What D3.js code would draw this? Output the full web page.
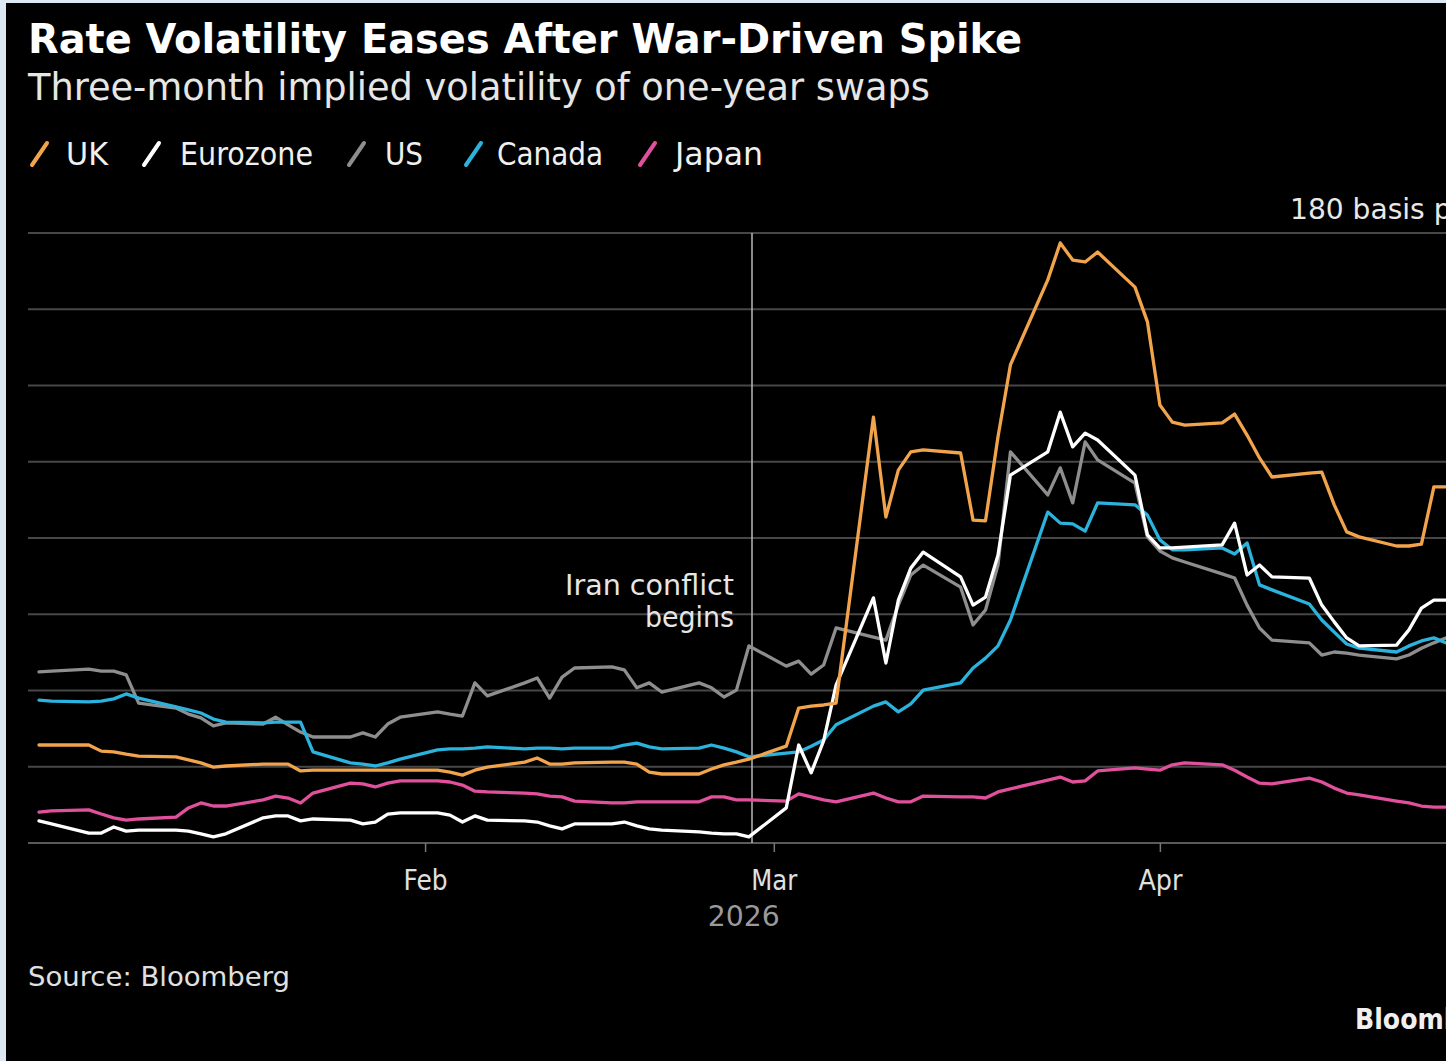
<!DOCTYPE html>
<html><head><meta charset="utf-8">
<script src="https://cdn.jsdelivr.net/npm/d3@7"></script>
<style>html,body{margin:0;padding:0;background:#000;} svg{display:block}</style>
</head><body><svg id="c" width="1446" height="1061"></svg>
<script>
// ---- data ----
const dates = [
 "2026-01-01","2026-01-02","2026-01-05","2026-01-06","2026-01-07","2026-01-08","2026-01-09","2026-01-12","2026-01-13","2026-01-14","2026-01-15","2026-01-16","2026-01-19","2026-01-20","2026-01-21","2026-01-22","2026-01-23","2026-01-26","2026-01-27","2026-01-28","2026-01-29","2026-01-30",
 "2026-02-02","2026-02-03","2026-02-04","2026-02-05","2026-02-06","2026-02-09","2026-02-10","2026-02-11","2026-02-12","2026-02-13","2026-02-16","2026-02-17","2026-02-18","2026-02-19","2026-02-20","2026-02-23","2026-02-24","2026-02-25","2026-02-26","2026-02-27",
 "2026-03-02","2026-03-03","2026-03-04","2026-03-05","2026-03-06","2026-03-09","2026-03-10","2026-03-11","2026-03-12","2026-03-13","2026-03-16","2026-03-17","2026-03-18","2026-03-19","2026-03-20","2026-03-23","2026-03-24","2026-03-25","2026-03-26","2026-03-27","2026-03-30","2026-03-31",
 "2026-04-01","2026-04-02","2026-04-03","2026-04-06","2026-04-07","2026-04-08","2026-04-09","2026-04-10","2026-04-13","2026-04-14","2026-04-15","2026-04-16","2026-04-17","2026-04-20","2026-04-21","2026-04-22","2026-04-23","2026-04-24"];

const uk = [
 45.7,45.7,45.7,44.1,43.9,43.3,42.8,42.6,41.8,41.0,39.9,40.2,40.7,40.7,40.7,38.9,39.1,39.1,39.1,39.1,39.1,39.1,
 39.1,38.6,37.8,39.1,39.9,41.2,42.3,40.7,40.7,41.0,41.2,41.2,40.7,38.6,38.1,38.1,39.4,40.5,41.2,42.0,
 45.4,55.4,55.9,56.2,56.7,131.7,105.5,117.8,122.6,123.1,122.3,104.7,104.5,126.5,145.4,167.7,177.4,172.9,172.4,175.0,165.8,156.7,
 134.9,130.4,129.6,130.2,132.5,127.0,121.0,116.0,117.0,117.3,108.7,101.6,100.3,97.9,97.9,98.4,113.4,113.4];

const eurozone = [
 25.8,25.0,22.6,22.6,24.2,23.1,23.4,23.4,23.1,22.4,21.6,22.4,26.6,27.1,27.1,25.8,26.3,26.0,25.0,25.5,27.6,27.9,
 27.9,27.3,25.5,27.1,26.0,25.8,25.5,24.5,23.7,25.0,25.0,25.5,24.5,23.7,23.4,22.9,22.6,22.4,22.4,21.6,
 29.2,45.7,38.4,46.8,61.4,84.3,67.2,83.7,92.1,96.3,89.8,82.4,84.5,95.5,116.5,122.6,133.0,123.9,127.5,125.7,116.5,100.8,
 97.4,97.4,97.6,98.2,103.9,90.3,92.9,89.8,89.5,82.4,78.0,73.8,71.7,71.9,75.9,81.6,83.7,83.7];

const us = [
 64.9,65.1,65.6,65.1,65.1,64.1,56.7,55.4,53.8,52.8,50.7,51.5,51.2,53.0,51.0,49.1,47.8,47.8,48.9,47.8,51.2,53.0,
 54.4,53.8,53.3,62.0,58.6,62.0,63.3,58.0,63.5,65.9,66.2,65.4,60.7,62.0,59.6,62.0,60.7,58.3,60.1,71.7,
 66.4,67.7,64.3,66.7,76.4,74.0,73.2,82.4,90.3,92.9,87.1,77.2,81.1,92.9,122.6,111.3,118.4,109.2,125.2,120.5,114.4,100.3,
 96.6,94.8,93.7,90.6,89.5,82.4,76.4,73.2,72.5,69.3,70.1,69.8,69.3,68.3,69.3,71.1,72.5,73.8];

const canada = [
 57.5,57.2,57.0,57.2,57.8,59.1,58.0,55.7,54.9,54.1,52.5,51.7,51.5,51.7,51.7,51.7,43.9,41.0,40.7,40.2,41.0,42.0,
 44.4,44.7,44.7,44.9,45.2,44.7,44.9,44.9,44.7,44.9,44.9,45.7,46.2,45.2,44.7,44.9,45.7,44.9,43.9,42.6,
 43.6,43.9,45.4,47.0,51.0,55.9,57.0,54.4,56.5,60.1,62.0,65.9,68.5,71.7,78.5,106.8,103.9,103.7,101.8,109.2,108.7,106.0,
 99.5,96.9,96.9,97.4,95.8,98.7,87.7,86.4,82.7,78.5,75.3,72.2,71.1,70.1,71.7,73.0,73.8,72.5];

const japan = [
 28.1,28.4,28.7,27.6,26.6,26.0,26.3,26.8,29.2,30.5,29.7,29.7,31.3,32.3,31.8,30.5,33.1,35.7,35.5,34.7,35.7,36.3,
 36.3,36.0,35.2,33.6,33.4,33.1,32.9,32.3,32.1,31.0,30.5,30.5,30.8,30.8,30.8,30.8,32.1,32.1,31.3,31.3,
 31.0,32.9,32.1,31.3,30.8,33.1,31.8,30.8,30.8,32.3,32.1,32.1,31.8,33.4,34.2,36.5,37.3,36.0,36.3,38.9,39.7,39.4,
 39.1,40.5,41.0,40.5,39.1,37.3,35.7,35.5,37.0,36.0,34.4,33.1,32.6,31.0,30.5,29.7,29.4,29.4];

const seriesNames = ["UK","Eurozone","US","Canada","Japan"];
const xTickDates = ["2026-02-01","2026-03-01","2026-04-01"];
const xTickLabels = ["Feb","Mar","Apr"];
const yTicks = [20,40,60,80,100,120,140,160,180];
const yTopLabel = "180 basis points";
const eventDate = "2026-02-27T06:00:00Z";
const eventLabel = ["Iran conflict","begins"];

// ---- styles ----
const colors = {UK:"#f2a44c", Eurozone:"#ffffff", US:"#8e8e8e", Canada:"#2bb2dd", Japan:"#e0509c"};
const FONT = "'DejaVu Sans Condensed','DejaVu Sans', Verdana, sans-serif";

const svg = d3.select("#c");
svg.append("rect").attr("width",1446).attr("height",1061).attr("fill","#000");
// light frame (left and top edges)
svg.append("rect").attr("x",0).attr("y",0).attr("width",6).attr("height",1061).attr("fill","#dce8f4");
svg.append("rect").attr("x",0).attr("y",0).attr("width",1446).attr("height",3).attr("fill","#dce8f4");

const parse = s => new Date(s.length===10 ? s+"T00:00:00Z" : s);
const x = d3.scaleUtc().domain([parse("2026-01-01"), parse("2026-05-01")]).range([39, 1533.5]);
const y = d3.scaleLinear().domain([20,180]).range([843,233]);

function txt(g, s, opts){
  const t = g.append("text").text(s).attr("x",opts.x).attr("y",opts.y)
    .attr("fill",opts.fill||"#fff").attr("font-family",FONT)
    .attr("font-size",opts.size).attr("font-weight",opts.weight||"normal")
    .attr("text-anchor",opts.anchor||"start");
  if(opts.len){ t.attr("textLength",opts.len).attr("lengthAdjust","spacingAndGlyphs"); }
  return t;
}

// titles
txt(svg,"Rate Volatility Eases After War-Driven Spike",{x:28,y:53,size:41,weight:"bold",len:994});
txt(svg,"Three-month implied volatility of one-year swaps",{x:28,y:100,size:37,fill:"#e6e6e6",len:902});

// legend
const legendPos = [{ix:28,tx:66,len:42},{ix:140,tx:180,len:133},{ix:345,tx:385,len:38},{ix:462,tx:497,len:106},{ix:636,tx:675,len:88}];
seriesNames.forEach((n,i)=>{
  const p = legendPos[i];
  svg.append("line").attr("x1",p.ix+4).attr("y1",165).attr("x2",p.ix+19).attr("y2",143)
    .attr("stroke",colors[n]).attr("stroke-width",4).attr("stroke-linecap","round");
  txt(svg,n,{x:p.tx,y:165,size:32,fill:"#f0f0f0",len:p.len});
});

// gridlines
svg.append("g").selectAll("line").data(yTicks).join("line")
  .attr("x1",28).attr("x2",1446).attr("y1",d=>y(d)).attr("y2",d=>y(d))
  .attr("stroke",d=>d===20?"#5a5a5a":"#474747").attr("stroke-width",2);
txt(svg,yTopLabel,{x:1290,y:219,size:28,fill:"#e8e8e8",len:230});

// x axis
const tickLens = [44,46,44];
const ax = svg.append("g").attr("transform","translate(0,843)")
  .call(d3.axisBottom(x).tickValues(xTickDates.map(parse)).tickFormat((d,i)=>xTickLabels[i]).tickSize(9).tickPadding(0));
ax.select(".domain").remove();
ax.selectAll(".tick line").attr("stroke","#777").attr("stroke-width",1.5);
ax.selectAll(".tick text").attr("fill","#e0e0e0").attr("font-family",FONT).attr("font-size",28)
  .attr("dy",null).attr("y",47)
  .attr("textLength",(d,i)=>tickLens[i]).attr("lengthAdjust","spacingAndGlyphs");
txt(svg,"2026",{x:x(parse("2026-03-01"))-30,y:926,size:28,fill:"#9a9a9a",anchor:"middle",len:72});

// event line
const ex = x(parse(eventDate));
svg.append("line").attr("x1",ex).attr("x2",ex).attr("y1",y(180)).attr("y2",y(20))
  .attr("stroke","#b8b8b8").attr("stroke-width",1.5);
txt(svg,eventLabel[0],{x:ex-18,y:595,size:29,fill:"#e6e6e6",anchor:"end",len:169});
txt(svg,eventLabel[1],{x:ex-18,y:627,size:29,fill:"#e6e6e6",anchor:"end",len:89});

// lines
const seriesData = {UK:uk, Eurozone:eurozone, US:us, Canada:canada, Japan:japan};
const drawOrder = ["US","Canada","Japan","Eurozone","UK"];
const line = d3.line().x(d=>x(d[0])).y(d=>y(d[1]));
const gLines = svg.append("g");
drawOrder.forEach(n=>{
  const pts = dates.map((d,i)=>[parse(d), seriesData[n][i]]);
  gLines.append("path").datum(pts).attr("d",line).attr("fill","none")
    .attr("stroke",colors[n]).attr("stroke-width",3.3).attr("stroke-linejoin","round").attr("stroke-linecap","round");
});

// footer
txt(svg,"Source: Bloomberg",{x:28,y:986,size:27,fill:"#e0e0e0",len:262});
txt(svg,"Bloomberg",{x:1355,y:1029,size:28,weight:"bold",fill:"#f0f0f0"});
</script></body></html>
